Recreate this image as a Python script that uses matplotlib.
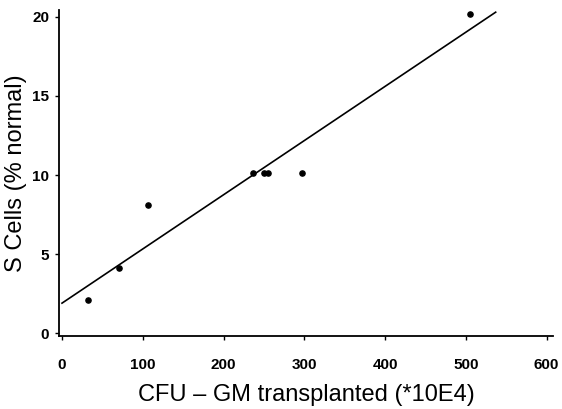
import matplotlib
matplotlib.use("Agg")
import matplotlib.pyplot as plt

# CFU-GM transplanted (*10E4) vs S cells (% normal)
cfu = [32, 71, 107, 237, 250, 255, 297, 505]
s_cells = [2.1, 4.1, 8.1, 10.1, 10.1, 10.1, 10.1, 20.2]

# fitted regression line, drawn from its two end points
fit_x = [0, 537]
fit_y = [1.9, 20.3]

xticks = [0, 100, 200, 300, 400, 500, 600]
yticks = [0, 5, 10, 15, 20]

plt.rcParams['font.family'] = ['Liberation Sans', 'DejaVu Sans']

fig = plt.figure(figsize=(5.62, 4.09), dpi=100)
ax = fig.add_axes([0.105, 0.178, 0.879, 0.798])

ax.plot(fit_x, fit_y, color="black", linewidth=1.2)
ax.scatter(cfu, s_cells, s=14, color="black", zorder=3)

ax.set_xlim(-3.7, 608)
ax.set_ylim(-0.19, 20.45)
ax.set_xticks(xticks)
ax.set_yticks(yticks)
ax.tick_params(direction="out", length=3, width=1, labelsize=11)
ax.tick_params(axis="x", pad=13)
ax.tick_params(axis="y", pad=4)
for lbl in ax.get_xticklabels() + ax.get_yticklabels():
    lbl.set_fontweight("bold")

ax.spines["top"].set_visible(False)
ax.spines["right"].set_visible(False)
ax.spines["left"].set_linewidth(1.3)
ax.spines["bottom"].set_linewidth(1.3)

ax.set_xlabel("CFU – GM transplanted (*10E4)", fontsize=17, labelpad=8)
ax.set_ylabel("S Cells (% normal)", fontsize=17, labelpad=4)

fig.savefig("out.png", dpi=100)
